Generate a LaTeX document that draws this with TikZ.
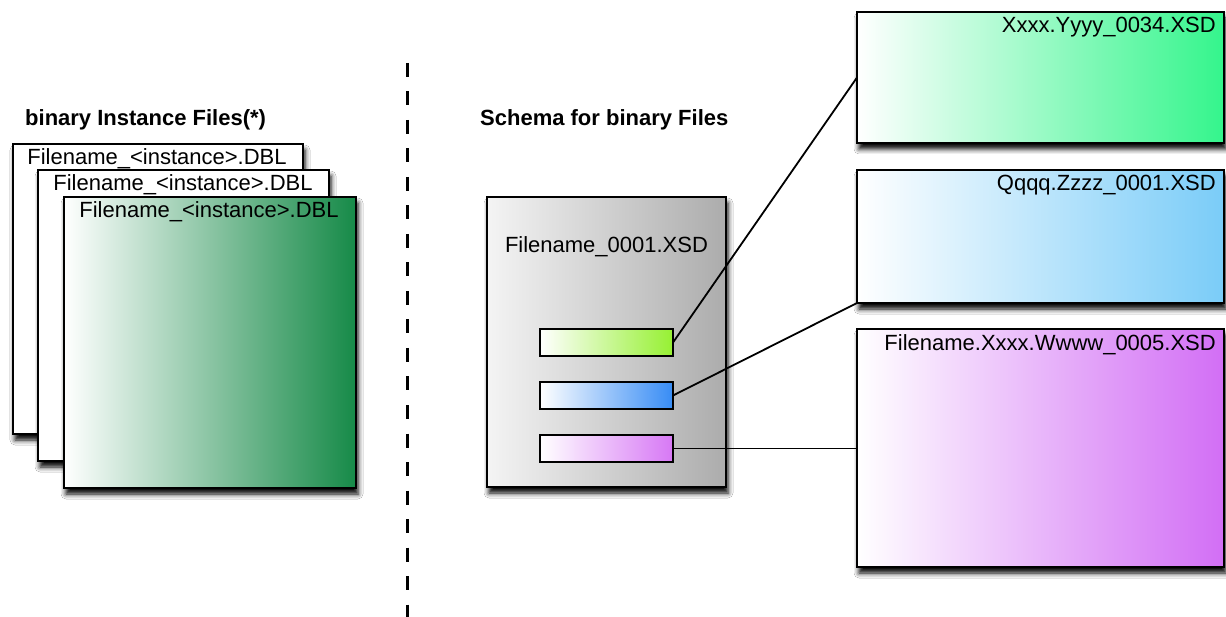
\documentclass[tikz,border=0pt]{standalone}
\usepackage{fontspec}
\setmainfont{Liberation Sans}
\usetikzlibrary{shadows.blur}
\definecolor{dblgreen}{RGB}{22,138,72}
\definecolor{xsdgreen}{RGB}{52,245,140}
\definecolor{xsdblue}{RGB}{122,204,248}
\definecolor{xsdpurple}{RGB}{210,110,245}
\definecolor{barlime}{RGB}{150,240,50}
\definecolor{barblue}{RGB}{55,140,245}
\definecolor{barpurple}{RGB}{215,120,245}
\definecolor{midL}{RGB}{244,244,244}
\definecolor{midR}{RGB}{172,172,172}
\begin{document}
\begin{tikzpicture}[x=1pt,y=-1pt,
  filebox/.style={draw=black, line width=1.6pt, inner sep=0pt, outer sep=0pt, anchor=north west,
    blur shadow={shadow xshift=2pt, shadow yshift=-6pt, shadow blur radius=5pt, shadow opacity=100}},
  barbox/.style={draw=black, line width=1.4pt, inner sep=0pt, outer sep=0pt, anchor=north west,
    minimum width=133pt, minimum height=27pt},
  lbl/.style={font=\fontsize{22}{26}\selectfont, inner sep=0pt},
  head/.style={font=\fontsize{22}{26}\selectfont\bfseries, inner sep=0pt, anchor=base west},
  link/.style={draw=black, line width=1.8pt},
  divider/.style={line width=3pt, dash pattern=on 14pt off 14.5pt}
]
\useasboundingbox (0,0) rectangle (1226,617);
\fill[white] (0,0) rectangle (1226,617);

% divider
\coordinate (divtop) at (407,63);
\coordinate (divbot) at (407,617);
\draw[divider] (divtop) -- (divbot);

% headings
\node[head] (hleft) at (25,126) {binary Instance Files(*)};
\node[head] (hright) at (480,126) {Schema for binary Files};

% instance stack
\node[filebox, fill=white, minimum width=290pt, minimum height=290pt] (s1) at (13,144) {};
\node[lbl, anchor=base] (s1t) at (157,165) {Filename\_<instance>.DBL};
\node[filebox, fill=white, minimum width=291pt, minimum height=291pt] (s2) at (38,170) {};
\node[lbl, anchor=base] (s2t) at (183,191) {Filename\_<instance>.DBL};
\node[filebox, left color=white, right color=dblgreen, minimum width=292pt, minimum height=291pt] (s3) at (64,197) {};
\node[lbl, anchor=base] (s3t) at (209,218) {Filename\_<instance>.DBL};

% schema box
\node[filebox, left color=midL, right color=midR, minimum width=239pt, minimum height=290pt] (mid) at (487,197) {};
\node[lbl, anchor=base] (midt) at (606.5,253) {Filename\_0001.XSD};
\node[barbox, left color=white, right color=barlime] (b1) at (540,329) {};
\node[barbox, left color=white, right color=barblue] (b2) at (540,382) {};
\node[barbox, left color=white, right color=barpurple] (b3) at (540,435) {};

% referenced schemas
\node[filebox, left color=white, right color=xsdgreen, minimum width=367pt, minimum height=131pt] (ra) at (857,12) {};
\node[lbl, anchor=base east] (rat) at (1216,33) {Xxxx.Yyyy\_0034.XSD};
\node[filebox, left color=white, right color=xsdblue, minimum width=367pt, minimum height=133pt] (rb) at (857,170) {};
\node[lbl, anchor=base east] (rbt) at (1216,191) {Qqqq.Zzzz\_0001.XSD};
\node[filebox, left color=white, right color=xsdpurple, minimum width=367pt, minimum height=238pt] (rc) at (857,329) {};
\node[lbl, anchor=base east] (rct) at (1216,351) {Filename.Xxxx.Wwww\_0005.XSD};

% connectors
\draw[link] (b1.east) -- (ra.west);
\draw[link] (b2.east) -- (rb.south west);
\draw[link] (b3.east) -- (b3.east -| rc.west);
\end{tikzpicture}
\end{document}
